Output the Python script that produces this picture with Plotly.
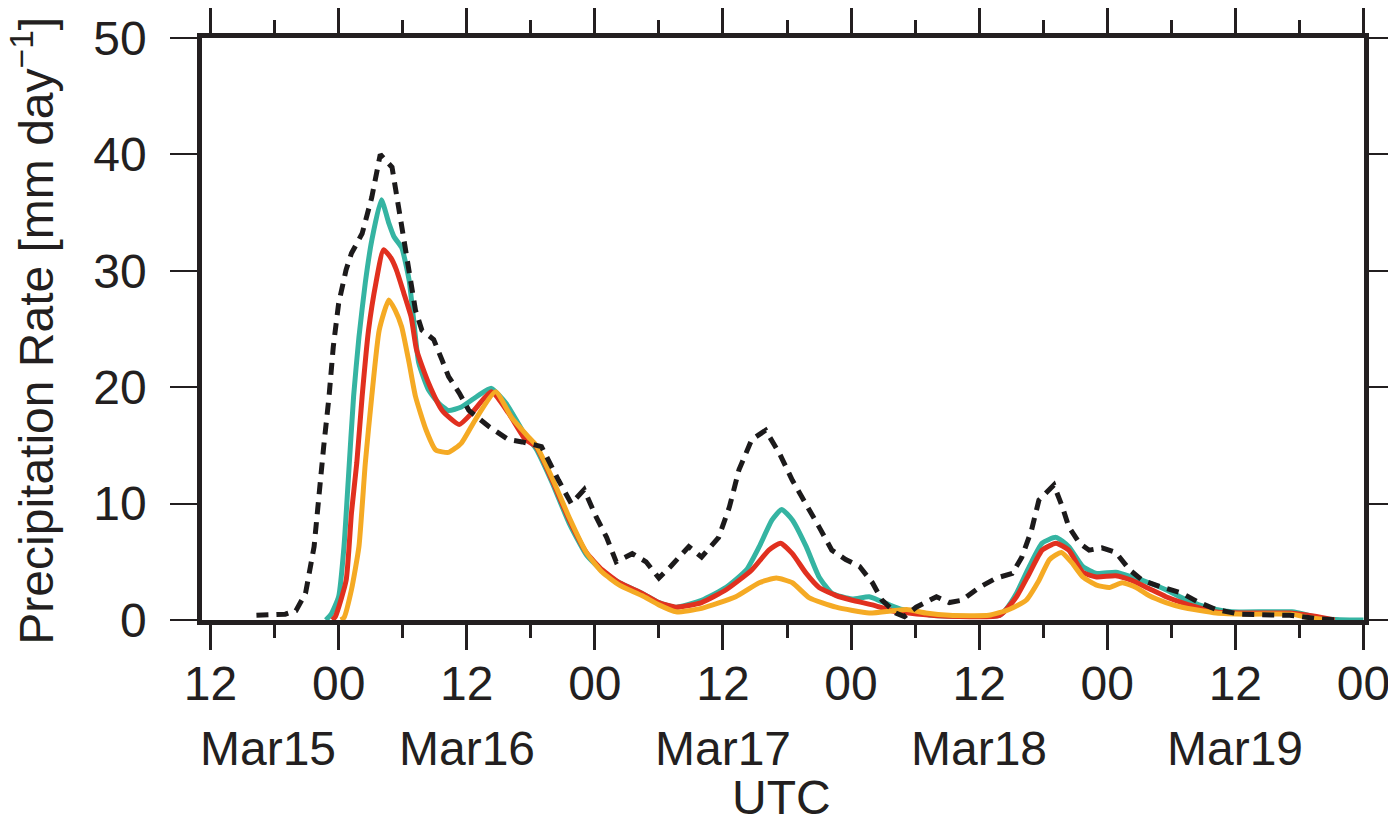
import plotly.graph_objects as go

# hours since 12 UTC Mar 15
obs_h = [4.3, 5.4, 7.0, 8.0, 8.9, 9.7, 10.1, 10.6, 11.1, 11.5, 12.0, 12.7, 13.2, 14.2, 15.1, 15.9, 17.0, 17.6,
         18.3, 18.8, 19.2, 19.8, 20.9, 21.7, 22.3, 23.3, 24.2, 26.1, 27.9, 29.2, 31.0, 32.6, 33.8, 35.0, 36.1,
         37.1, 38.0, 39.5, 40.8, 42.0, 43.1, 44.8, 46.0, 47.6, 48.6, 49.5, 50.7, 52.0, 53.3, 54.5, 55.8, 57.0,
         58.2, 59.5, 60.8, 62.0, 62.9, 64.2, 65.0, 66.1, 68.0, 69.2, 70.4, 72.0, 73.6, 75.1, 76.0, 76.9, 77.6,
         79.0, 79.8, 80.4, 81.4, 82.3, 83.5, 84.8, 86.1, 87.3, 89.2, 91.0, 92.6, 94.2, 96.4, 101.1, 103.9, 105.8]
obs_v = [0.4, 0.4, 0.5, 0.8, 2.3, 6.3, 10.6, 14.9, 19.2, 23.5, 27.2, 30.1, 31.5, 33.2, 36.3, 40.0, 38.9, 35.5,
         32.0, 29.2, 26.6, 24.9, 24.1, 22.3, 20.9, 19.5, 18.0, 16.6, 15.5, 15.3, 14.9, 12.0, 10.0, 11.2, 8.9,
         7.1, 5.0, 5.7, 5.0, 3.6, 4.6, 6.3, 5.4, 7.1, 9.7, 12.9, 15.5, 16.3, 14.3, 12.0, 10.0, 8.0,
         6.0, 5.2, 4.6, 3.2, 1.7, 0.6, 0.3, 1.1, 2.0, 1.5, 1.7, 2.8, 3.6, 4.0, 5.4, 7.7, 10.3,
         11.6, 9.7, 8.0, 6.6, 6.0, 6.2, 5.8, 4.3, 3.4, 2.8, 2.3, 1.5, 0.9, 0.5, 0.4, 0.1, 0.0]

teal_h = [10.8, 11.3, 12.0, 12.5, 12.9, 13.4, 13.9, 14.5, 15.1, 16.0, 16.7, 17.2, 17.9, 18.6, 19.0, 19.5, 20.4,
          21.4, 22.3, 23.5, 25.1, 26.3, 27.7, 29.2, 30.5, 32.0, 33.6, 35.2, 36.7, 38.3, 40.4, 42.0, 43.6,
          46.0, 48.3, 50.2, 51.4, 52.6, 53.5, 54.5, 55.8, 57.0, 58.2, 60.1, 61.7, 63.6, 64.8, 67.6, 73.9,
          74.5, 75.5, 76.7, 77.9, 79.2, 80.4, 81.7, 83.0, 84.8, 86.3, 87.9, 89.5, 91.0, 92.6, 94.2, 95.7,
          101.3, 102.9, 104.2, 106.7, 108.0]
teal_v = [0.0, 0.5, 2.0, 6.3, 12.0, 19.2, 24.3, 29.0, 32.6, 36.1, 34.1, 32.9, 32.0, 29.2, 26.0, 22.1, 19.8,
          18.6, 18.0, 18.3, 19.3, 19.9, 18.6, 16.3, 14.7, 11.8, 8.3, 5.6, 4.2, 3.2, 2.3, 1.5, 1.1,
          1.7, 2.8, 4.3, 6.3, 8.6, 9.5, 8.6, 6.3, 3.7, 2.3, 1.8, 2.0, 1.3, 0.9, 0.4, 0.4,
          0.9, 2.3, 4.6, 6.6, 7.1, 6.3, 4.6, 4.0, 4.1, 3.7, 3.2, 2.6, 1.9, 1.3, 0.9, 0.7,
          0.7, 0.4, 0.1, 0.0, 0.0]

red_h = [11.4, 11.7, 12.7, 13.2, 13.7, 14.2, 14.8, 15.5, 16.2, 16.9, 17.4, 18.1, 18.8, 19.3, 20.4, 21.7, 23.3,
         24.5, 26.3, 27.9, 29.5, 30.5, 32.0, 33.6, 35.2, 36.7, 38.3, 40.4, 42.0, 43.6, 46.0, 48.3, 50.7,
         52.3, 53.4, 54.5, 55.8, 57.0, 58.6, 60.1, 62.0, 63.8, 65.4, 67.6, 73.9, 75.5, 76.7, 77.9, 79.2,
         80.4, 81.7, 83.0, 84.8, 86.3, 87.9, 89.5, 91.0, 94.2, 98.9, 101.1, 103.6, 105.3]
red_v = [0.0, 0.3, 3.4, 9.2, 13.5, 19.2, 24.9, 29.0, 31.8, 31.1, 30.1, 28.1, 26.0, 23.2, 20.4, 18.0, 16.8,
         17.8, 19.6, 17.8, 15.5, 14.9, 12.0, 8.6, 5.8, 4.3, 3.2, 2.3, 1.5, 1.1, 1.5, 2.6, 4.3,
         6.0, 6.6, 5.7, 4.0, 2.8, 2.1, 1.7, 1.3, 0.8, 0.6, 0.4, 0.4, 2.0, 4.0, 6.0, 6.6,
         6.0, 4.1, 3.7, 3.8, 3.4, 2.7, 2.0, 1.5, 0.7, 0.6, 0.6, 0.3, 0.0]

orange_h = [12.2, 12.5, 13.2, 13.9, 14.5, 15.1, 15.8, 16.7, 17.3, 17.9, 18.6, 19.2, 20.2, 21.1, 22.3, 23.5,
            24.8, 26.7, 28.2, 29.8, 30.5, 32.0, 33.6, 35.2, 36.7, 38.3, 40.4, 42.0, 43.6, 46.0, 49.2, 51.4,
            53.0, 54.5, 56.1, 58.6, 61.7, 65.2, 67.0, 69.2, 72.9, 74.8, 76.4, 77.6, 78.6, 79.7, 80.7, 81.7,
            83.0, 84.2, 85.4, 86.7, 87.9, 89.5, 91.0, 94.2, 97.3, 101.3, 102.9, 104.8]
orange_v = [0.0, 0.2, 2.6, 6.3, 13.5, 19.2, 24.9, 27.5, 26.6, 25.2, 22.1, 19.2, 16.3, 14.6, 14.4, 15.2,
            17.2, 19.6, 17.4, 15.7, 15.0, 12.2, 8.8, 5.8, 4.1, 3.0, 2.1, 1.3, 0.7, 1.0, 2.0, 3.2,
            3.6, 3.2, 1.9, 1.1, 0.6, 0.9, 0.6, 0.4, 0.4, 0.9, 1.7, 3.4, 5.2, 5.8, 4.9, 3.7,
            3.0, 2.8, 3.2, 2.8, 2.1, 1.5, 1.1, 0.6, 0.5, 0.5, 0.2, 0.0]

tick_hours = [0, 12, 24, 36, 48, 60, 72, 84, 96, 108]
tick_text = ["12", "00", "12", "00", "12", "00", "12", "00", "12", "00"]
minor_hours = [6, 18, 30, 42, 54, 66, 78, 90, 102]
date_labels = ["Mar15", "Mar16", "Mar17", "Mar18", "Mar19"]
date_label_hours = [5.4, 24, 48, 72, 96]
y_ticks = [0, 10, 20, 30, 40, 50]

INK = "#231f20"
FONT = "Liberation Sans, Arial, Helvetica, sans-serif"

fig = go.Figure()
fig.add_trace(go.Scatter(x=teal_h, y=teal_v, mode="lines",
                         line=dict(color="#35b4a2", width=5, shape="spline", smoothing=0.5)))
fig.add_trace(go.Scatter(x=red_h, y=red_v, mode="lines",
                         line=dict(color="#e1301f", width=5, shape="spline", smoothing=0.5)))
fig.add_trace(go.Scatter(x=orange_h, y=orange_v, mode="lines",
                         line=dict(color="#f5aa24", width=5, shape="spline", smoothing=0.5)))
fig.add_trace(go.Scatter(x=obs_h, y=obs_v, mode="lines",
                         line=dict(color="#1c1a1b", width=5, dash="12px,8px")))

# the page body adds an 8 px offset, so the figure is 8 px smaller than the window
fig.update_layout(
    width=1388, height=816,
    margin=dict(l=194, r=32, t=30, b=204, autoexpand=False),
    paper_bgcolor="white", plot_bgcolor="white",
    showlegend=False,
    font=dict(family=FONT, size=48, color=INK),
)
fig.update_xaxes(
    range=[-0.8, 108.05], tickmode="array", tickvals=tick_hours, ticktext=tick_text,
    ticks="outside", ticklen=25, tickwidth=2.5, tickcolor=INK,
    showline=True, linewidth=4.5, linecolor=INK, mirror="allticks",
    showgrid=False, zeroline=False, ticklabelstandoff=-7, automargin=False,
    tickfont=dict(size=48, family=FONT, color=INK),
    minor=dict(tickmode="array", tickvals=minor_hours, ticks="outside", ticklen=13,
               tickwidth=2.5, tickcolor=INK, showgrid=False),
)
fig.update_yaxes(
    range=[0, 50], tickmode="array", tickvals=y_ticks,
    ticks="outside", ticklen=27, tickwidth=2, tickcolor=INK,
    showline=True, linewidth=4.5, linecolor=INK, mirror="allticks",
    showgrid=False, zeroline=False, ticklabelstandoff=14, automargin=False,
    tickfont=dict(size=48, family=FONT, color=INK),
)

for lab, h in zip(date_labels, date_label_hours):
    fig.add_annotation(x=h, y=-0.22, xref="x", yref="paper", text=lab, showarrow=False,
                       xanchor="center", yanchor="middle", font=dict(size=48, family=FONT, color=INK))
fig.add_annotation(x=53.5, y=-0.305, xref="x", yref="paper", text="UTC", showarrow=False,
                   xanchor="center", yanchor="middle", font=dict(size=48, family=FONT, color=INK))
fig.add_annotation(x=-0.1455, y=0.497, xref="paper", yref="paper",
                   text="Precipitation Rate [mm day<sup>\u22121</sup>]", showarrow=False,
                   textangle=-90, xanchor="center", yanchor="middle",
                   font=dict(size=48, family=FONT, color=INK))

fig.write_html("out.html")
